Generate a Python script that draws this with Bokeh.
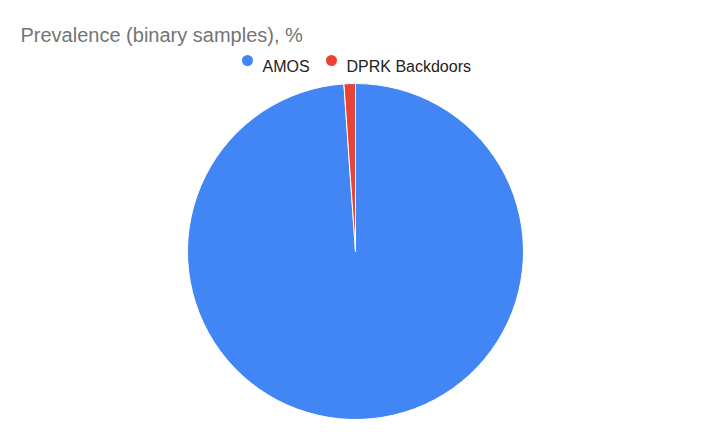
import math
from bokeh.plotting import figure
from bokeh.models import Range1d, ColumnDataSource
from bokeh.core.properties import value
from bokeh.embed import file_html
from bokeh.resources import INLINE

# ---- data ----
categories = ["AMOS", "DPRK Backdoors"]
shares = [98.9, 1.1]
colors = ["#4285F4", "#EA4335"]
title_text = "Prevalence (binary samples), %"

W, H = 693, 419
p = figure(width=W, height=H, output_backend="svg", toolbar_location=None,
           x_range=Range1d(0, W), y_range=Range1d(-H, 0),
           min_border=0, outline_line_color=None)
p.axis.visible = False
p.grid.visible = False
p.background_fill_color = "white"
p.border_fill_color = "white"

# pie: starts at 12 o'clock, clockwise
total = sum(shares)
starts, ends = [], []
cum = 0.0
for s in shares:
    starts.append(math.pi / 2 - 2 * math.pi * cum / total)
    cum += s
    ends.append(math.pi / 2 - 2 * math.pi * cum / total)
src = ColumnDataSource(dict(cat=categories, val=shares, start=starts, end=ends, color=colors))
cx, cy, r = 355, -251, 168
p.wedge(x=cx, y=cy, radius=r, start_angle="start", end_angle="end", direction="clock",
        fill_color="color", line_color="white", line_width=1, source=src)

# title
p.text(x=[20], y=[-34], text=[title_text], text_font=value("Liberation Sans"),
       text_font_size="20px", text_color="#757575", text_baseline="alphabetic")

# legend (circles + labels)
leg_x = [247, 331]
p.scatter(x=leg_x, y=[-60, -60], size=11, marker="circle", fill_color=colors, line_color=None)
p.text(x=[x + 15 for x in leg_x], y=[-65.5, -65.5], text=categories,
       text_font=value("Liberation Sans"), text_font_size="16px", text_color="#222222",
       text_baseline="alphabetic")

open("out.html", "w").write(file_html(p, INLINE))
